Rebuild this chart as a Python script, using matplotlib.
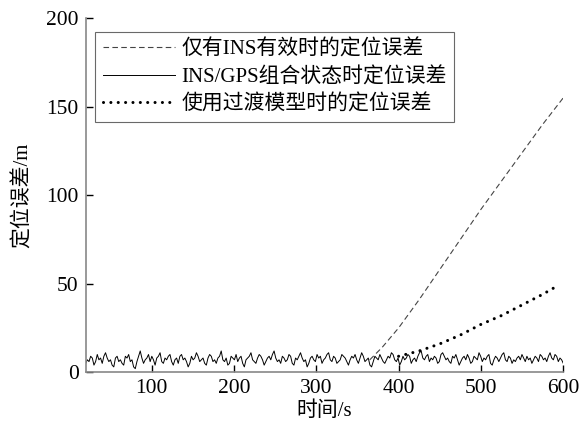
import matplotlib
matplotlib.use("Agg")
import matplotlib.pyplot as plt
import numpy as np

plt.rcParams['font.family'] = ['Liberation Serif', 'Noto Sans CJK SC']
plt.rcParams['axes.unicode_minus'] = False

# INS/GPS combined error (noise-like)
noise = [5,7,6,9,8,4,6,10,7,8,5,9,11,8,6,7,4,3,8,9,6,7,5,4,9,8,10,6,7,3,
         2,6,9,12,8,5,7,8,10,6,9,7,4,8,9,11,6,5,8,7,9,10,6,4,7,8,5,9,10,7,
         8,6,3,5,9,7,8,11,9,6,7,8,5,4,8,10,9,6,7,5,8,9,12,7,6,8,4,5,9,8,
         7,10,6,8,9,5,3,7,8,9,11,7,6,5,8,10,9,7,4,6,8,9,7,10,12,8,6,7,5,9,
         8,6,7,10,9,5,4,8,7,9,11,8,6,7,3,5,8,9,7,6,10,8,9,5,7,8,10,11,7,6,
         9,8,5,6,7,10,9,8,6,4,7,9,8,10,7,5,8,11,9,6,7,8,4,3,6,9,8,7,10,8,
         6,5,7,9,8,11,10,7,6,8,4,6,9,7,8,10,9,5,7,8,6,9,11,12,8,7,9,10,6,8,
         7,9,8,5,6,10,11,9,7,8,6,5,9,8,10,7,4,6,8,9,7,10,8,5,6,9,8,7,11,9,
         6,8,7,9,10,5,4,7,9,8,6,8,10,11,7,6,9,8,5,7,6,8,9,7,10,8,6,9,7,8,
         5,7,9,8,6,10,9,7,8,6,9,11,8,7,10,9,6,8,7,5]
t_noise = np.linspace(20, 600, len(noise))

# INS only
t_ins = [365, 380, 400, 425, 450, 475, 500, 525, 550, 575, 600]
e_ins = [7, 14, 25, 41, 58, 75, 92, 108, 124, 140, 155]

# transition model
t_tr = [400, 425, 450, 475, 500, 525, 550, 575, 590]
e_tr = [9, 12, 16, 21, 27, 32, 38, 44, 48]

labels = ["仅有INS有效时的定位误差", "INS/GPS组合状态时定位误差", "使用过渡模型时的定位误差"]

fig = plt.figure(figsize=(5.81, 4.22), dpi=100)
ax = fig.add_axes([0.1475, 0.118, 0.822, 0.839])

l1, = ax.plot(t_ins, e_ins, color='#444444', lw=0.8, linestyle=(0, (5, 3)))
l2, = ax.plot(t_noise, noise, color='black', lw=0.7)
l3, = ax.plot(t_tr, e_tr, color='black', lw=2.2, linestyle=(0, (0.01, 2.4)),
              dash_capstyle='round')

ax.set_xlim(20, 600)
ax.set_ylim(0, 200)
ax.set_xticks([100, 200, 300, 400, 500, 600])
ax.set_yticks([0, 50, 100, 150, 200])
ax.tick_params(direction='in', length=5, width=1, labelsize=15.5, colors='black', pad=5)
for s in ['top', 'right']:
    ax.spines[s].set_visible(False)
for s in ['left', 'bottom']:
    ax.spines[s].set_color('#888888')
    ax.spines[s].set_linewidth(1.2)

ax.set_xlabel("时间/s", fontsize=15, labelpad=2)
ax.set_ylabel("定位误差/m", fontsize=15, labelpad=10)

leg = ax.legend([l1, l2, l3], labels, loc='upper left', bbox_to_anchor=(0.02, 0.96),
                fontsize=15, frameon=True, fancybox=False, edgecolor='#444444',
                handlelength=3.5, handletextpad=0.3, borderpad=0.35, labelspacing=0.35,
                borderaxespad=0)
leg.get_frame().set_linewidth(0.8)

fig.savefig("out.png", dpi=100)
